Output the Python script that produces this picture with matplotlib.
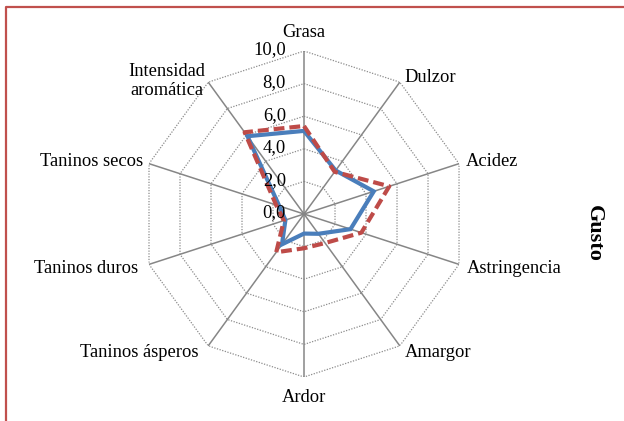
import numpy as np
import matplotlib
matplotlib.use("Agg")
import matplotlib.pyplot as plt
from matplotlib.lines import Line2D

plt.rcParams['font.family'] = ['Liberation Serif', 'DejaVu Serif']

# Datos del grafico
categorias = ["Grasa", "Dulzor", "Acidez", "Astringencia", "Amargor", "Ardor",
              "Taninos ásperos", "Taninos duros", "Taninos secos", "Intensidad\naromática"]
serie_azul = [5.1, 3.3, 4.5, 3.0, 1.5, 1.2, 2.3, 1.2, 1.6, 5.9]
serie_roja = [5.4, 3.2, 5.5, 3.7, 2.2, 2.1, 2.9, 1.3, 1.8, 6.2]
niveles = [0, 2, 4, 6, 8, 10]
etiquetas_niveles = ["0,0", "2,0", "4,0", "6,0", "8,0", "10,0"]

# offsets (px) and alignment of each category label
offs = [(0, 19, 'center'), (5, 5, 'left'), (7, 2, 'left'), (8, -4, 'left'),
        (5, -7, 'left'), (0, -20, 'center'), (-10, -7, 'right'), (-11, -4, 'right'),
        (-6, 2, 'right'), (-3, 1, 'right')]

n = len(categorias)
ang = np.arange(n) * 2 * np.pi / n

fig = plt.figure(figsize=(6.24, 4.21), dpi=100)
ax = fig.add_axes([0.226, 0.1045, 0.5224, 0.7743], projection='polar')
ax.set_theta_offset(np.pi / 2)
ax.set_theta_direction(-1)
ax.set_ylim(0, 10)
ax.grid(False)
ax.set_xticks([])
ax.set_yticks([])
ax.spines['polar'].set_visible(False)
ax.patch.set_alpha(0)

# grid polygons
ang_c = np.append(ang, ang[0])
for lv in niveles[1:]:
    ax.plot(ang_c, [lv] * (n + 1), color='#8c8c8c', lw=0.9, ls=(0, (1, 1.2)), zorder=1)
# spokes
for a in ang:
    ax.plot([a, a], [0, 10], color='#868686', lw=1.1, zorder=1)

# series
ax.plot(ang_c, serie_azul + serie_azul[:1], color='#4A7EBB', lw=3.0,
        solid_joinstyle='miter', zorder=3)
ax.plot(ang_c, serie_roja + serie_roja[:1], color='#BE4B48', lw=3.0,
        dashes=(2.6, 1.2), zorder=4)

# level labels
for lv, t in zip(niveles, etiquetas_niveles):
    ax.annotate(t, xy=(0, lv), xytext=(-18, 1), textcoords='offset pixels',
                ha='right', va='center', fontsize=13.3, zorder=5)

# category labels
for a, lab, (dx, dy, ha) in zip(ang, categorias, offs):
    ax.annotate(lab, xy=(a, 10), xytext=(dx, dy), textcoords='offset pixels',
                ha=ha, va='center', fontsize=13.3, multialignment='center',
                annotation_clip=False)

fig.text(0.951, 0.445, "Gusto", rotation=-90, fontsize=16, fontweight='bold',
         ha='center', va='center')

# chart border (left and top)
fig.add_artist(Line2D([0.0096, 0.0096, 1.0], [0.0, 0.983, 0.983],
                      transform=fig.transFigure, color='#C0504D', lw=1.6))

fig.savefig("out.png", dpi=100)
